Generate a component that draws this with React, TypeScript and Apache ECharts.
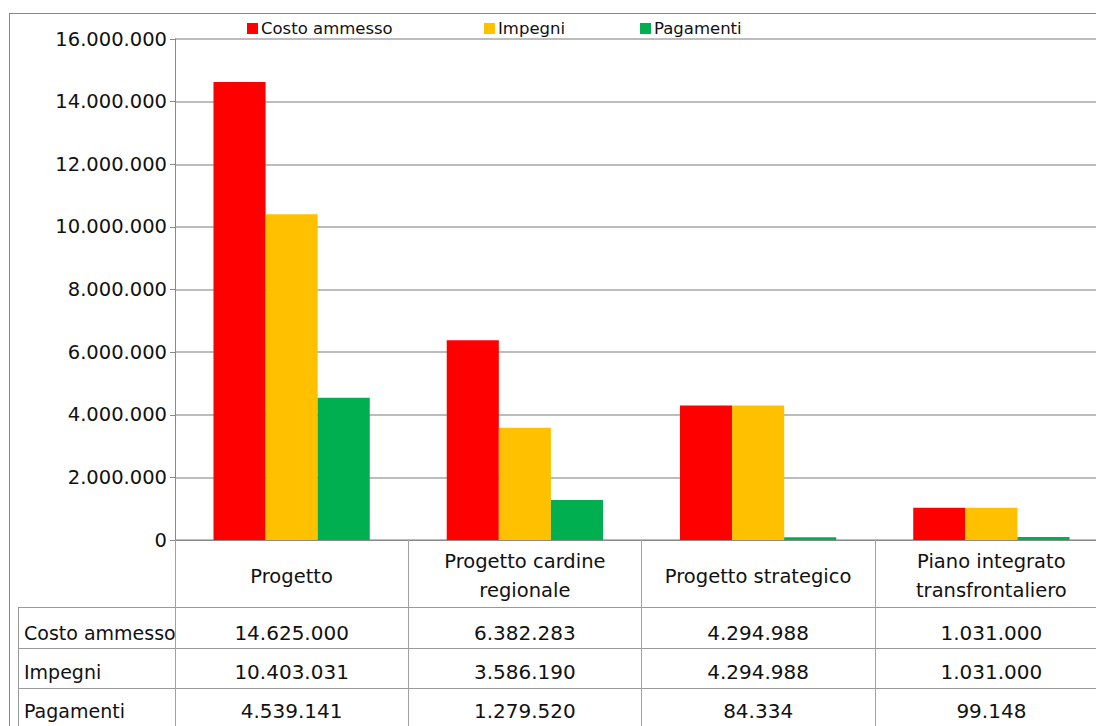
import React, { useEffect, useRef } from "react";
import * as echarts from "echarts";

const categories = [
  "Progetto",
  "Progetto cardine\nregionale",
  "Progetto strategico",
  "Piano integrato\ntransfrontaliero",
];
const seriesNames = ["Costo ammesso", "Impegni", "Pagamenti"];
const costoAmmesso = [14625000, 6382283, 4294988, 1031000];
const impegni = [10403031, 3586190, 4294988, 1031000];
const pagamenti = [4539141, 1279520, 84334, 99148];
const colors = ["#ff0000", "#ffc000", "#00b050"];
const yMax = 16000000;
const yInterval = 2000000;

const fmt = (n: number) => String(n).replace(/\B(?=(\d{3})+(?!\d))/g, ".");
const FONT = "DejaVu Sans";

export default function App() {
  const ref = useRef<HTMLDivElement>(null);
  useEffect(() => {
    if (!ref.current) return;
    const chart = echarts.init(ref.current, null, { renderer: "svg" });
    const allSeries = [costoAmmesso, impegni, pagamenti];
    const legendLefts = [247, 484, 640];
    chart.setOption({
      animation: false,
      backgroundColor: "#ffffff",
      textStyle: { fontFamily: FONT },
      legend: seriesNames.map((name, i) => ({
        data: [name],
        left: legendLefts[i],
        top: 20,
        padding: 0,
        itemWidth: 11,
        itemHeight: 11,
        itemGap: 4,
        icon: "rect",
        textStyle: { fontSize: 16.5, color: "#111", fontFamily: FONT, padding: [0, 0, 0, -2] },
      })),
      grid: { left: 175, right: 0, top: 39, bottom: 186, containLabel: false },
      xAxis: {
        type: "category",
        data: categories,
        axisLine: { show: true, lineStyle: { color: "#8a8a8a", width: 1 } },
        axisTick: { show: true, length: 186, lineStyle: { color: "#a89ea0", width: 1 } },
        axisLabel: {
          margin: 36,
          verticalAlign: "middle",
          fontSize: 19.5,
          lineHeight: 29,
          color: "#111",
          fontFamily: FONT,
          interval: 0,
        },
      },
      yAxis: {
        type: "value",
        min: 0,
        max: yMax,
        interval: yInterval,
        axisLine: { show: true, lineStyle: { color: "#8a8a8a" } },
        axisTick: { show: true, length: 5, lineStyle: { color: "#8a8a8a" } },
        axisLabel: {
          formatter: (v: number) => fmt(v),
          fontSize: 19.5,
          color: "#111",
          margin: 8,
          fontFamily: FONT,
        },
        splitLine: { show: true, lineStyle: { color: "#a6a6a6", width: 1.5 } },
      },
      series: seriesNames.map((name, i) => ({
        name,
        type: "bar",
        data: allSeries[i],
        itemStyle: { color: colors[i] },
        barGap: "0%",
        barCategoryGap: "33%",
      })),
    });

    const xs = categories.map((_, i) => chart.convertToPixel({ xAxisIndex: 0 }, i) as number);
    const rowYs = [633, 672, 711];
    const lineStyle = { stroke: "#999999", lineWidth: 1 };
    const graphics: any[] = [
      { type: "line", shape: { x1: 9.5, y1: 13, x2: 9.5, y2: 726 }, style: { stroke: "#888", lineWidth: 1 } },
      { type: "line", shape: { x1: 9, y1: 13.5, x2: 1096, y2: 13.5 }, style: { stroke: "#888", lineWidth: 1 } },
      { type: "line", shape: { x1: 18.5, y1: 607, x2: 18.5, y2: 726 }, style: lineStyle },
      { type: "line", shape: { x1: 18, y1: 607.5, x2: 1096, y2: 607.5 }, style: lineStyle },
      { type: "line", shape: { x1: 18, y1: 648.5, x2: 1096, y2: 648.5 }, style: lineStyle },
      { type: "line", shape: { x1: 18, y1: 688.5, x2: 1096, y2: 688.5 }, style: lineStyle },
    ];
    seriesNames.forEach((name, r) => {
      graphics.push({
        type: "text",
        x: 24,
        y: rowYs[r],
        style: { text: name, fontSize: 19, fill: "#111", fontFamily: FONT, verticalAlign: "middle", align: "left" },
      });
      allSeries[r].forEach((v, c) => {
        graphics.push({
          type: "text",
          x: xs[c],
          y: rowYs[r],
          style: { text: fmt(v), fontSize: 20, fill: "#111", fontFamily: FONT, verticalAlign: "middle", align: "center" },
        });
      });
    });
    chart.setOption({ graphic: graphics });
    return () => chart.dispose();
  }, []);
  return (
    <div style={{ position: "fixed", left: 0, top: 0, width: 1096, height: 726, overflow: "hidden", background: "#fff" }}>
      <div ref={ref} style={{ width: 1108, height: 726 }} />
    </div>
  );
}
